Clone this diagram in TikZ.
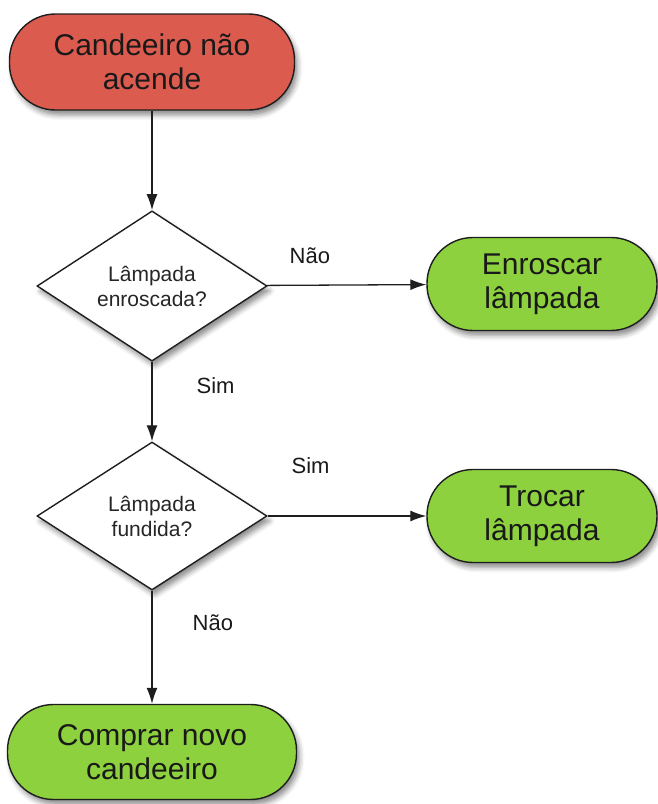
\documentclass[tikz,border=0pt]{standalone}
\usepackage{fontspec}
\setmainfont{Liberation Sans}
\usetikzlibrary{shapes.geometric,arrows.meta,shadows.blur}
\definecolor{termred}{HTML}{DC5B4F}
\definecolor{termgreen}{HTML}{8DD13E}
\definecolor{edgedark}{HTML}{1E1E1E}
\tikzset{
  term/.style={rectangle, rounded corners=46pt, draw=edgedark, line width=1.4pt,
    inner sep=0pt, align=center, font=\fontsize{30}{34}\selectfont, text=black!90,
    blur shadow={shadow xshift=3pt, shadow yshift=-5pt, shadow blur radius=5pt, shadow opacity=45}},
  startnode/.style={term, fill=termred, minimum width=285pt, minimum height=96pt},
  endnode/.style={term, fill=termgreen, minimum width=230pt, minimum height=93pt},
  decision/.style={diamond, draw=edgedark, line width=1.4pt, fill=white, inner sep=0pt,
    minimum width=230pt, minimum height=148pt, align=center,
    font=\fontsize{21}{25}\selectfont, text=black!85,
    blur shadow={shadow xshift=3pt, shadow yshift=-5pt, shadow blur radius=5pt, shadow opacity=45}},
  conn/.style={draw=edgedark, line width=1.3pt, -{Latex[length=16pt,width=11pt]}},
  lbl/.style={font=\fontsize{22}{24}\selectfont, text=black!90, inner sep=0pt}
}
\begin{document}
\begin{tikzpicture}[x=1pt,y=-1pt]
\useasboundingbox (0,0) rectangle (658,804);
\node[startnode] (start) at (152,62) {Candeeiro não\\acende};
\node[decision] (d1) at (152,286) {Lâmpada\\enroscada?};
\node[endnode] (enr) at (542,284) {Enroscar\\lâmpada};
\node[decision] (d2) at (152,516) {Lâmpada\\fundida?};
\node[endnode] (troc) at (542,516) {Trocar\\lâmpada};
\node[startnode, fill=termgreen, minimum width=289pt, minimum height=95pt] (buy) at (152,752) {Comprar novo\\candeeiro};
\draw[conn] (start) -- (d1);
\draw[conn] (d1) -- node[lbl, pos=0.27, above=21pt] (l1) {Não} (enr);
\draw[conn] (d1) -- node[lbl, pos=0.3, right=44pt] (l2) {Sim} (d2);
\draw[conn] (d2) -- node[lbl, pos=0.27, above=42pt] (l3) {Sim} (troc);
\draw[conn] (d2) -- node[lbl, pos=0.28, right=40pt] (l4) {Não} (buy);
\end{tikzpicture}
\end{document}
